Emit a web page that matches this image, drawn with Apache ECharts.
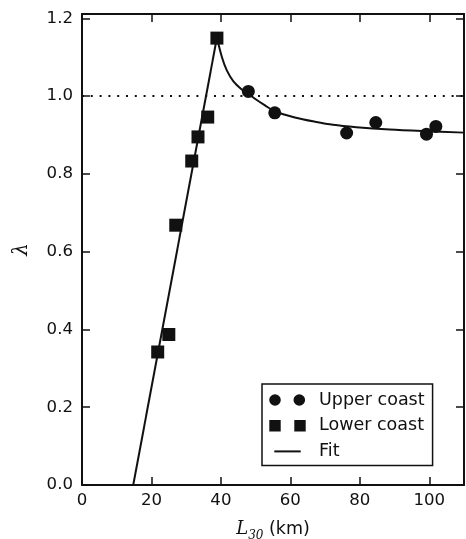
<!DOCTYPE html>
<html>
<head>
<meta charset="utf-8">
<script src="https://cdn.jsdelivr.net/npm/echarts@6/dist/echarts.min.js"></script>
<style>html,body{margin:0;padding:0;background:#fff}#chart{width:466px;height:539px}</style>
</head>
<body>
<div id="chart"></div>
<script>
// Observations: [L30 (km), lambda]
const upperCoast = [[47.9, 1.012], [55.5, 0.957], [76.2, 0.905], [84.6, 0.932], [99.2, 0.902], [101.9, 0.922]];
const lowerCoast = [[21.8, 0.342], [25.0, 0.387], [27.0, 0.668], [31.6, 0.833], [33.4, 0.895], [36.2, 0.946], [38.85, 1.149]];
// Fitted curve: straight rising branch, then the decaying branch
const fitRise = [[14.75, 0], [38.85, 1.15]];
const fitDecay = [[38.85, 1.15], [40.3, 1.100], [41.7, 1.066], [43.6, 1.038], [46.0, 1.017], [48.0, 1.005],
  [49.8, 0.993], [52.7, 0.976], [55.5, 0.961], [61.3, 0.945], [67.1, 0.934], [72.3, 0.926],
  [79.0, 0.920], [88.6, 0.914], [98.2, 0.910], [110, 0.906]];
const unityLevel = 1.0;
const xRange = [0, 110];
const yRange = [0, 1.211];
const xStep = 20;
const yStep = 0.2;
const legendNames = ['Upper coast', 'Lower coast', 'Fit'];

const INK = '#111';
const FONT = 'DejaVu Sans';

// Legend glyphs: two markers per entry, and a short line for the fit
const circlePair = 'path://M0 0M46 14M1.2 7a5.8 5.8 0 1 0 11.6 0a5.8 5.8 0 1 0 -11.6 0ZM25.5 7a5.8 5.8 0 1 0 11.6 0a5.8 5.8 0 1 0 -11.6 0Z';
const squarePair = 'path://M0 0M46 14M1.3 1.3h11.4v11.4h-11.4ZM26.3 1.3h11.4v11.4h-11.4Z';
const fitGlyph = 'path://M0 0M46 14M6.3 6h26.4v2h-26.4Z';

const chart = echarts.init(document.getElementById('chart'), null, { renderer: 'canvas' });

function isStep(v, step) {
  return Math.abs(v / step - Math.round(v / step)) < 1e-6;
}

const tickStyle = { show: true, inside: true, length: 8, lineStyle: { color: INK, width: 1.5 } };
const lineStyleAxis = { show: true, onZero: false, lineStyle: { color: INK, width: 2 } };

chart.setOption({
  animation: false,
  backgroundColor: '#fff',
  grid: { left: 82, right: 2, top: 14, bottom: 54, containLabel: false, outerBoundsMode: 'none' },
  legend: {
    orient: 'vertical',
    left: 262, top: 384,
    padding: [7, 8, 5, 6],
    itemWidth: 46, itemHeight: 14, itemGap: 7.7,
    backgroundColor: '#fff',
    borderColor: INK, borderWidth: 1.5, borderRadius: 0,
    textStyle: { fontFamily: FONT, fontSize: 17.5, color: INK },
    data: [
      { name: legendNames[0], icon: circlePair },
      { name: legendNames[1], icon: squarePair },
      { name: legendNames[2], icon: fitGlyph }
    ]
  },
  xAxis: [{
    type: 'value', position: 'bottom', min: xRange[0], max: xRange[1], interval: xStep,
    axisLine: lineStyleAxis, axisTick: tickStyle, splitLine: { show: false },
    axisLabel: {
      margin: 7, fontFamily: FONT, fontSize: 16.6, color: INK,
      formatter: v => isStep(v, xStep) ? String(v) : ''
    },
    name: '{l|L}{s|30}{n| (km)}',
    nameLocation: 'middle', nameGap: 32,
    nameTextStyle: {
      rich: {
        l: { fontFamily: 'DejaVu Serif', fontStyle: 'italic', fontSize: 18, color: INK },
        s: { fontFamily: 'DejaVu Serif', fontStyle: 'italic', fontSize: 12, color: INK, padding: [13, 0, 0, 0] },
        n: { fontFamily: FONT, fontSize: 17.5, color: INK }
      }
    }
  }, {
    type: 'value', position: 'top', min: xRange[0], max: xRange[1], interval: xStep,
    axisLine: lineStyleAxis, axisTick: tickStyle, splitLine: { show: false },
    axisLabel: { show: false }
  }],
  yAxis: [{
    type: 'value', position: 'left', min: yRange[0], max: yRange[1], interval: yStep,
    axisLine: lineStyleAxis, axisTick: tickStyle, splitLine: { show: false },
    axisLabel: {
      margin: 9, fontFamily: FONT, fontSize: 16.6, color: INK,
      formatter: v => isStep(v, yStep) ? v.toFixed(1) : ''
    },
    name: 'λ', nameLocation: 'middle', nameGap: 50, nameRotate: 90,
    nameTextStyle: { fontFamily: 'DejaVu Serif', fontStyle: 'italic', fontSize: 20, color: INK }
  }, {
    type: 'value', position: 'right', min: yRange[0], max: yRange[1], interval: yStep,
    axisLine: lineStyleAxis, axisTick: tickStyle, splitLine: { show: false },
    axisLabel: { show: false }
  }],
  series: [
    {
      name: 'unity', type: 'line', silent: true, symbol: 'none',
      data: [[xRange[0], unityLevel], [xRange[1], unityLevel]],
      lineStyle: { color: INK, width: 2, type: [2, 6.8] }, z: 1
    },
    {
      name: legendNames[2], type: 'line', symbol: 'none', color: INK,
      data: fitRise, lineStyle: { color: INK, width: 2 }, z: 2
    },
    {
      name: legendNames[2], type: 'line', symbol: 'none', color: INK, smooth: 0.3,
      data: fitDecay, lineStyle: { color: INK, width: 2 }, z: 2
    },
    {
      name: legendNames[0], type: 'scatter', symbol: 'circle', symbolSize: 13,
      data: upperCoast, itemStyle: { color: INK, opacity: 1 }, z: 3
    },
    {
      name: legendNames[1], type: 'scatter', symbol: 'rect', symbolSize: 13,
      data: lowerCoast, itemStyle: { color: INK, opacity: 1 }, z: 3
    }
  ]
});
</script>
</body>
</html>
